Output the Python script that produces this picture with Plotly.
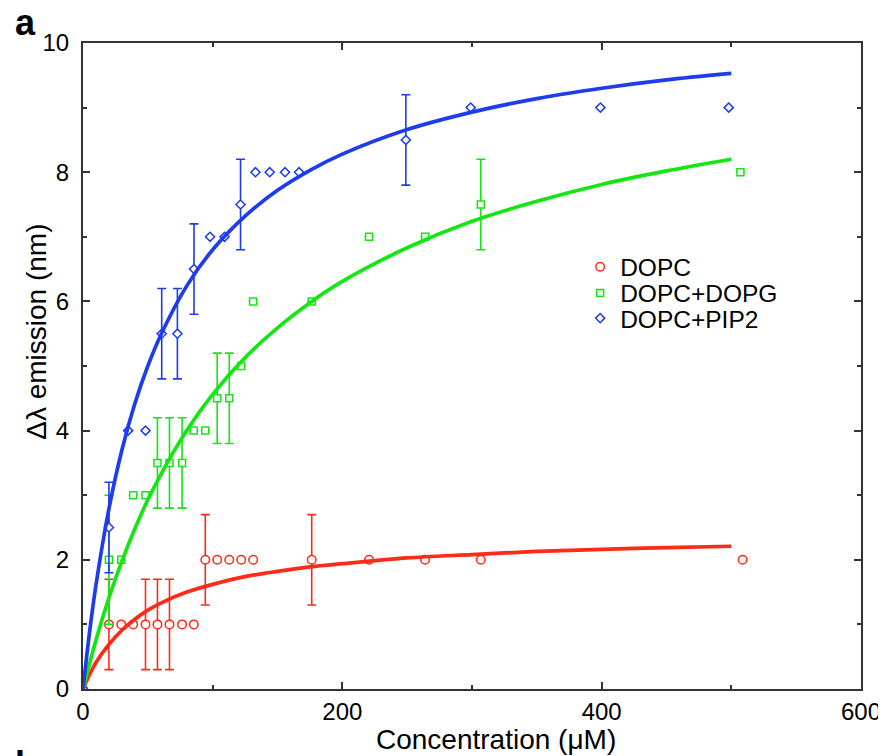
import plotly.graph_objects as go

# ---- data ----
dopc_x = [0, 20, 29.5, 38.7, 48.2, 57.4, 66.7, 76.4, 85.4, 94.3, 103.5, 112.8, 122, 131.2, 176.4, 220.6, 263.8, 306.8, 508.7]
dopc_y = [0, 1, 1, 1, 1, 1, 1, 1, 1, 2, 2, 2, 2, 2, 2, 2, 2, 2, 2]
dopc_err = [0, 0.7, 0, 0, 0.7, 0.7, 0.7, 0, 0, 0.7, 0, 0, 0, 0, 0.7, 0, 0, 0, 0]

dopg_x = [0, 20, 29.5, 38.7, 48.2, 57.4, 66.7, 76.4, 85.4, 94.3, 103.5, 112.8, 122, 131.2, 176.4, 220.6, 263.8, 306.8, 507]
dopg_y = [0, 2, 2, 3, 3, 3.5, 3.5, 3.5, 4, 4, 4.5, 4.5, 5, 6, 6, 7, 7, 7.5, 8]
dopg_err = [0, 1.0, 0, 0, 0, 0.7, 0.7, 0.7, 0, 0, 0.7, 0.7, 0, 0, 0, 0, 0, 0.7, 0]

pip2_x = [0, 20, 34.8, 48.2, 60.7, 72.8, 85.6, 98, 109.2, 121.5, 133, 144, 155.8, 166.6, 249, 299, 399, 498]
pip2_y = [0, 2.5, 4, 4, 5.5, 5.5, 6.5, 7, 7, 7.5, 8, 8, 8, 8, 8.5, 9, 9, 9]
pip2_err = [0, 0.7, 0, 0, 0.7, 0.7, 0.7, 0, 0, 0.7, 0, 0, 0, 0, 0.7, 0, 0, 0]

# fitted curves, values
fit_x = [0, 5, 10, 20, 30, 40, 50, 60, 80, 100, 125, 150, 175, 200, 250, 300, 350, 400, 450, 500]
fit_dopc = [0, 0.22, 0.41, 0.69, 0.91, 1.08, 1.22, 1.33, 1.50, 1.62, 1.74, 1.82, 1.89, 1.94, 2.03, 2.08, 2.13, 2.16, 2.19, 2.21]
fit_dopg = [0, 0.39, 0.76, 1.41, 1.98, 2.48, 2.93, 3.32, 4.00, 4.56, 5.13, 5.59, 5.98, 6.31, 6.83, 7.24, 7.55, 7.81, 8.02, 8.20]
fit_pip2 = [0, 0.87, 1.61, 2.79, 3.70, 4.42, 5.00, 5.48, 6.24, 6.80, 7.32, 7.72, 8.03, 8.28, 8.66, 8.93, 9.14, 9.30, 9.43, 9.53]

names = ["DOPC", "DOPC+DOPG", "DOPC+PIP2"]
x_ticks = [0, 200, 400, 600]
y_ticks = [0, 2, 4, 6, 8, 10]
x_title = "Concentration (μM)"
y_title = "Δλ emission (nm)"

RED = "#ff2a18"
GREEN = "#14e614"
BLUE = "#1e3ceb"
FONT = "Liberation Sans, Arial, sans-serif"

fig = go.Figure()

series = [
    (dopc_x, dopc_y, dopc_err, names[0], RED, "circle", 8.5, "legend"),
    (dopg_x, dopg_y, dopg_err, names[1], GREEN, "square", 7, "legend2"),
    (pip2_x, pip2_y, pip2_err, names[2], BLUE, "diamond", 7, "legend3"),
]
for xs, ys, es, nm, col, sym, sz, lg in series:
    fig.add_trace(go.Scatter(
        x=xs, y=ys, mode="markers", name=nm, legend=lg,
        marker=dict(symbol=sym, size=sz, color="white", line=dict(color=col, width=1.5)),
        error_y=dict(type="data", array=es, visible=True, color=col, thickness=1.6, width=4.5),
    ))

for ys, col in [(fit_dopc, RED), (fit_dopg, GREEN), (fit_pip2, BLUE)]:
    fig.add_trace(go.Scatter(
        x=fit_x, y=ys, mode="lines", showlegend=False, hoverinfo="skip",
        line=dict(color=col, width=3.7, shape="spline", smoothing=0.8),
    ))

axis_common = dict(
    showgrid=False, zeroline=False, showline=True, linecolor="#333333", linewidth=2,
    mirror="ticks", ticks="inside", ticklen=7, tickwidth=1.5, tickcolor="#333333",
    tickfont=dict(family=FONT, size=24, color="black"), automargin=False,
)

fig.update_xaxes(
    range=[0, 600], tickvals=x_ticks, ticktext=[str(v) for v in x_ticks],
    minor=dict(dtick=100, ticks="inside", ticklen=4, tickwidth=1.5, tickcolor="#333333"),
    ticklabelstandoff=0,
    **axis_common,
)
fig.update_yaxes(
    range=[0, 10], tickvals=y_ticks, ticktext=[str(v) for v in y_ticks],
    minor=dict(dtick=1, ticks="inside", ticklen=4, tickwidth=1.5, tickcolor="#333333"),
    ticklabelstandoff=7,
    **axis_common,
)

leg_common = dict(xanchor="left", yanchor="middle", x=0.639,
                  font=dict(family=FONT, size=24.5, color="black"),
                  bgcolor="rgba(0,0,0,0)", itemwidth=30)

# the page body has an 8px margin, so the figure is 8px smaller than the window
fig.update_layout(
    width=878, height=748,
    margin=dict(l=75, r=25, t=35, b=67),
    plot_bgcolor="white", paper_bgcolor="white",
    font=dict(family=FONT, color="black"),
    legend=dict(y=0.6535, **leg_common),
    legend2=dict(y=0.613, **leg_common),
    legend3=dict(y=0.574, **leg_common),
    annotations=[
        dict(text=x_title, xref="paper", yref="paper", x=0.531, y=-0.0774,
             xanchor="center", yanchor="middle", showarrow=False,
             font=dict(family=FONT, size=28, color="black")),
        dict(text=y_title, xref="paper", yref="paper", x=-0.0591, y=0.553,
             xanchor="center", yanchor="middle", showarrow=False, textangle=-90,
             font=dict(family=FONT, size=28, color="black")),
        dict(text="<b>a</b>", xref="paper", yref="paper", x=-0.0903, y=1.0325,
             xanchor="left", yanchor="middle", showarrow=False,
             font=dict(family=FONT, size=36, color="black")),
        dict(text="<b>b</b>", xref="paper", yref="paper", x=-0.0903, y=-0.0818,
             xanchor="left", yanchor="top", showarrow=False,
             font=dict(family=FONT, size=36, color="black")),
    ],
)

fig.write_html("out.html")
